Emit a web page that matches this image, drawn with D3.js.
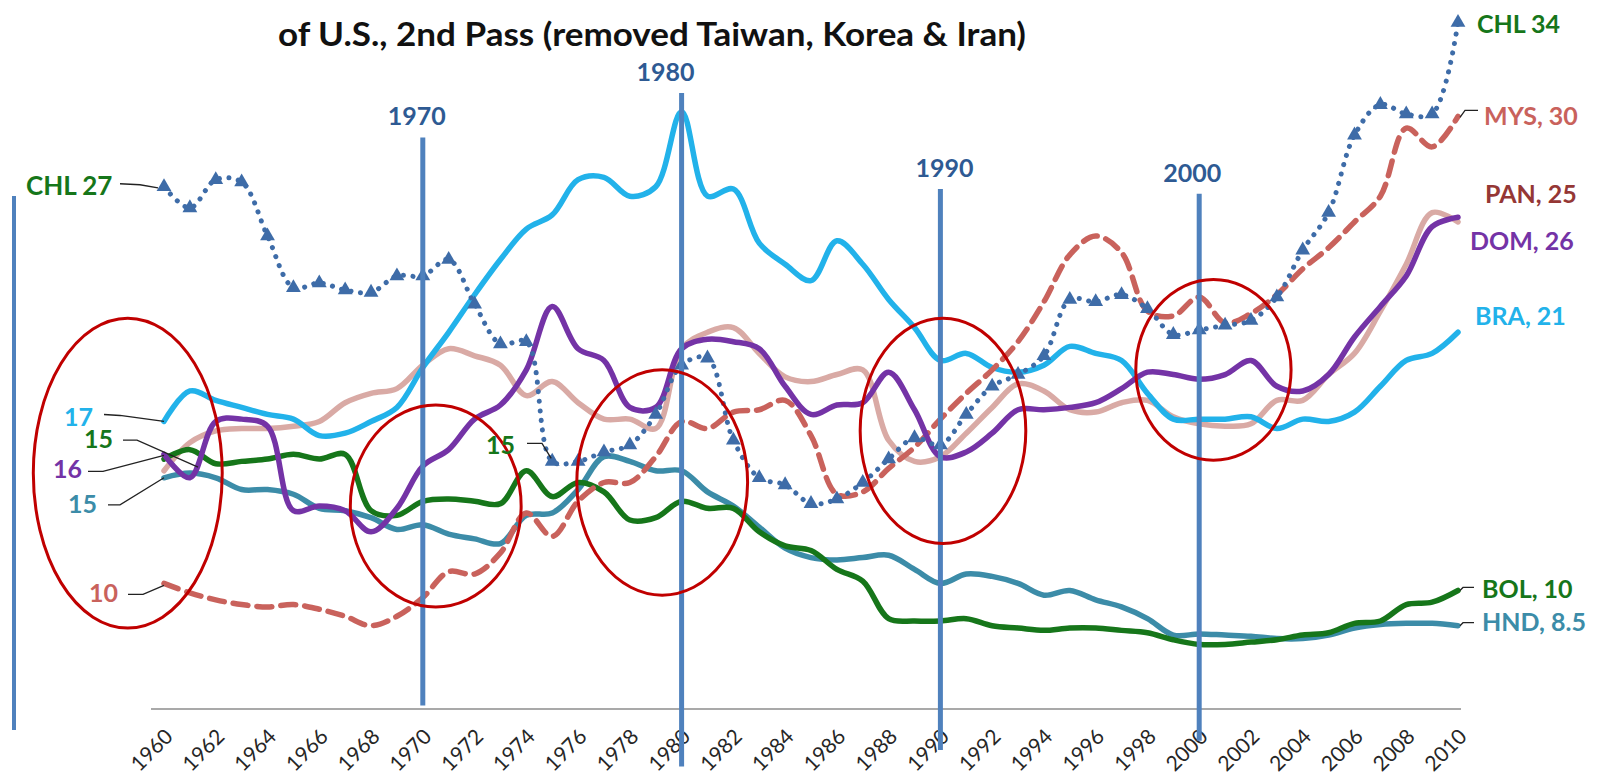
<!DOCTYPE html>
<html>
<head>
<meta charset="utf-8">
<script src="https://d3js.org/d3.v7.min.js"></script>
<style>
  body { margin: 0; background: #fff; }
  text { font-family: Lato, "Open Sans", sans-serif; }
</style>
</head>
<body>
<div id="chart"></div>
<script>

// ---- data ----
var years = d3.range(1960, 2011);

var chl = [27.0, 26.1, 27.3, 27.2, 24.9, 22.7, 22.9, 22.6, 22.5, 23.2,
	23.2, 23.9, 22.0, 20.3, 20.4, 15.3, 15.3, 15.7, 16.0, 17.3,
	19.4, 19.7, 16.2, 14.6, 14.3, 13.5, 13.7, 14.4, 15.4, 16.3,
	16.0, 17.3, 18.5, 19.0, 19.8, 22.2, 22.1, 22.4, 21.8, 20.7,
	20.9, 21.1, 21.3, 22.3, 24.3, 25.9, 29.2, 30.5, 30.1, 30.1, 34.0];

var mys = [10.1, 9.7, 9.4, 9.2, 9.1, 9.2, 9.0, 8.7, 8.3, 8.7,
	9.5, 10.6, 10.5, 11.4, 13.1, 12.1, 13.6, 14.4, 14.4, 15.5,
	17.0, 16.7, 17.4, 17.5, 17.9, 16.4, 13.9, 14.0, 15.0, 15.9,
	17.1, 18.2, 19.2, 20.4, 22.1, 24.1, 24.9, 24.2, 21.7, 21.5,
	22.3, 21.2, 21.6, 22.4, 23.5, 24.4, 25.5, 26.6, 29.5, 28.7, 30.0];

var pan = [14.9, 16.1, 16.6, 16.7, 16.7, 16.8, 17.0, 17.8, 18.2, 18.4,
	19.4, 20.1, 19.8, 19.4, 18.1, 18.7, 17.8, 17.1, 17.1, 16.7,
	20.1, 20.8, 21.0, 19.9, 18.9, 18.7, 19.0, 19.2, 16.2, 15.3,
	15.5, 16.5, 17.6, 18.6, 18.3, 17.5, 17.4, 17.8, 17.9, 17.2,
	16.9, 16.8, 16.9, 17.9, 17.9, 19.0, 19.9, 21.7, 23.7, 25.9, 25.5];

var dom = [15.6, 14.6, 17.0, 17.1, 16.8, 13.2, 13.4, 13.2, 12.3, 13.3,
	15.1, 15.8, 17.1, 17.7, 19.2, 21.9, 20.1, 19.6, 17.6, 17.6,
	20.1, 20.5, 20.4, 20.1, 18.5, 17.3, 17.7, 17.8, 19.1, 17.5,
	15.5, 15.7, 16.5, 17.5, 17.5, 17.6, 17.8, 18.4, 19.1, 19.0,
	18.8, 19.0, 19.6, 18.5, 18.3, 19.0, 20.6, 21.9, 23.2, 25.3, 25.7];

var bra = [17.0, 18.3, 17.9, 17.6, 17.3, 17.1, 16.4, 16.5, 17.0, 17.6,
	19.3, 20.8, 22.4, 23.9, 25.2, 25.8, 27.3, 27.4, 26.6, 27.0,
	30.2, 26.6, 26.9, 24.6, 23.7, 23.0, 24.7, 23.7, 22.2, 21.0,
	19.6, 19.9, 19.3, 19.1, 19.4, 20.2, 19.9, 19.6, 18.2, 17.1,
	17.1, 17.1, 17.2, 16.7, 17.1, 17.0, 17.4, 18.5, 19.6, 19.9, 20.8];

var bol = [15.4, 15.8, 15.2, 15.3, 15.4, 15.6, 15.4, 15.6, 13.2, 13.0,
	13.6, 13.7, 13.6, 13.5, 14.9, 13.8, 14.4, 14.0, 12.8, 12.9,
	13.6, 13.3, 13.3, 12.3, 11.7, 11.5, 10.7, 10.2, 8.6, 8.5,
	8.5, 8.6, 8.3, 8.2, 8.1, 8.2, 8.2, 8.1, 8.0, 7.7,
	7.5, 7.5, 7.6, 7.7, 7.9, 8.0, 8.4, 8.5, 9.2, 9.3, 9.8];

var hnd = [14.6, 14.8, 14.6, 14.1, 14.1, 13.9, 13.3, 13.2, 12.9, 12.4,
	12.6, 12.2, 12.0, 11.8, 13.0, 13.1, 14.1, 15.5, 15.3, 14.9,
	14.9, 14.0, 13.4, 12.5, 11.6, 11.2, 11.1, 11.2, 11.3, 10.7,
	10.1, 10.5, 10.4, 10.1, 9.6, 9.8, 9.4, 9.1, 8.6, 7.9,
	7.95, 7.9, 7.85, 7.75, 7.75, 7.9, 8.2, 8.35, 8.4, 8.4, 8.3];

var tickYears = years.filter(function(y) { return y % 2 == 0; });

// decade markers and the red circles (year, value, radius in years / value units)
var decades = [1970, 1980, 1990, 2000];
var decadeTop = [29.1, 31.0, 26.9, 26.7];
var decadeBottom = [4.9, 2.3, 3.0, 3.4];
var decadeLabelShift = [-6, -16, 4, -7];
var circles = [
	[1958.6, 14.8, 3.65, 6.6],
	[1970.5, 13.4, 3.3, 4.3],
	[1979.25, 14.4, 3.3, 4.8],
	[1990.1, 16.6, 3.2, 4.8],
	[2000.55, 19.2, 3.0, 3.85]
];

var title = "of U.S., 2nd Pass (removed Taiwan, Korea & Iran)";

// ---- layout ----
var W = 1600, H = 783;
var x = d3.scaleLinear().domain([1960, 2010]).range([164, 1458]);
var y = d3.scaleLinear().domain([4.75, 35]).range([709, -1]);

var svg = d3.select("#chart").append("svg")
	.attr("width", W)
	.attr("height", H);

var series = [
	{ name: "PAN", values: pan, color: "#d9aaa5", dash: null },
	{ name: "HND", values: hnd, color: "#3c8ca8", dash: null },
	{ name: "BOL", values: bol, color: "#16761a", dash: null },
	{ name: "BRA", values: bra, color: "#22b2ea", dash: null },
	{ name: "MYS", values: mys, color: "#c9625c", dash: "15 9" },
	{ name: "DOM", values: dom, color: "#7433a6", dash: null },
	{ name: "CHL", values: chl, color: "#3e6ca8", dash: "0.1 9.5" }
];

drawAxis();
drawSeries();
drawDecades();
drawCircles();
drawLabels();


function drawAxis() {
	// title (first line is cut off in the source)
	svg.append("text")
		.attr("x", 652)
		.attr("y", 46)
		.attr("text-anchor", "middle")
		.attr("textLength", 748)
		.attr("lengthAdjust", "spacingAndGlyphs")
		.style("font-size", "32px")
		.style("font-weight", "bold")
		.style("fill", "#111")
		.text(title);

	// left bar
	svg.append("line")
		.attr("x1", 14).attr("x2", 14)
		.attr("y1", 196).attr("y2", 730)
		.attr("stroke", "#4f81bd")
		.attr("stroke-width", 4);

	svg.append("line")
		.attr("x1", 151).attr("x2", 1461)
		.attr("y1", y(4.75)).attr("y2", y(4.75))
		.attr("stroke", "#8c8c8c")
		.attr("stroke-width", 1.5);

	svg.selectAll(".tick-label")
		.data(tickYears)
		.enter()
		.append("text")
		.attr("class", "tick-label")
		.attr("text-anchor", "end")
		.attr("transform", function(d) {
			return "translate(" + (x(d) + 10) + "," + (y(4.75) + 29) + ") rotate(-45)";
		})
		.style("font-size", "21px")
		.style("fill", "#262626")
		.text(function(d) { return d; });
}


function drawSeries() {
	var line = d3.line()
		.x(function(d, i) { return x(years[i]); })
		.y(function(d) { return y(d); })
		.curve(d3.curveCatmullRom.alpha(0.5));

	series.forEach(function(s) {
		svg.append("path")
			.datum(s.values)
			.attr("d", line)
			.attr("fill", "none")
			.attr("stroke", s.color)
			.attr("stroke-width", s.name == "CHL" ? 5 : 5.5)
			.attr("stroke-linecap", "round")
			.attr("stroke-linejoin", "round")
			.attr("stroke-dasharray", s.dash);
	});

	// triangles on the chile series
	svg.selectAll(".tri")
		.data(chl)
		.enter()
		.append("path")
		.attr("class", "tri")
		.attr("d", d3.symbol().type(d3.symbolTriangle).size(95))
		.attr("transform", function(d, i) { return "translate(" + x(years[i]) + "," + y(d) + ")"; })
		.attr("fill", "#3e6ca8");
}


function drawDecades() {
	decades.forEach(function(d, i) {
		svg.append("line")
			.attr("x1", x(d)).attr("x2", x(d))
			.attr("y1", y(decadeTop[i])).attr("y2", y(decadeBottom[i]))
			.attr("stroke", "#4f81bd")
			.attr("stroke-width", 5);

		svg.append("text")
			.attr("x", x(d) + decadeLabelShift[i])
			.attr("y", y(decadeTop[i]) - 12)
			.attr("text-anchor", "middle")
			.style("font-size", "25px")
			.style("font-weight", "bold")
			.style("fill", "#2e5a93")
			.text(d);
	});
}


function drawCircles() {
	var pxYear = x(1961) - x(1960);
	var pxUnit = y(0) - y(1);
	svg.selectAll(".ring")
		.data(circles)
		.enter()
		.append("ellipse")
		.attr("class", "ring")
		.attr("cx", function(d) { return x(d[0]); })
		.attr("cy", function(d) { return y(d[1]); })
		.attr("rx", function(d) { return d[2] * pxYear; })
		.attr("ry", function(d) { return d[3] * pxUnit; })
		.attr("fill", "none")
		.attr("stroke", "#c00000")
		.attr("stroke-width", 3);
}


function addLeader(pts) {
	svg.append("path")
		.attr("d", d3.line().curve(d3.curveLinear)(pts))
		.attr("fill", "none")
		.attr("stroke", "#222")
		.attr("stroke-width", 1.3);
}

function addText(tx, ty, txt, color, anchor, size) {
	svg.append("text")
		.attr("x", tx)
		.attr("y", ty)
		.attr("text-anchor", anchor || "start")
		.style("font-size", (size || 25) + "px")
		.style("font-weight", "bold")
		.style("fill", color)
		.text(txt);
}


function drawLabels() {
	var x0 = x(1960), x1 = x(2010);

	// left side, start values
	addText(26, y(chl[0]) + 8, "CHL " + Math.round(chl[0]), "#16761a", "start", 26);
	addLeader([[120, y(chl[0]) - 3], [140, y(chl[0]) - 2], [x0 - 6, y(chl[0]) + 1]]);

	addText(93, y(bra[0]) + 5, Math.round(bra[0]), "#22b2ea", "end");
	addLeader([[104, y(bra[0]) - 7], [120, y(bra[0]) - 6], [x0, y(bra[0])]]);

	addText(113, y(bol[0]) - 11, Math.round(bol[0]), "#16761a", "end");
	addLeader([[123, y(bol[0]) - 19], [137, y(bol[0]) - 19], [x0 + 34, y(bol[0]) + 8]]);

	addText(82, y(dom[0]) + 24, Math.round(dom[0]), "#7433a6", "end");
	addLeader([[88, y(dom[0]) + 17], [103, y(dom[0]) + 17], [x0, y(dom[0]) + 1]]);

	addText(97, y(hnd[0]) + 35, Math.round(hnd[0]), "#3c8ca8", "end");
	addLeader([[108, y(hnd[0]) + 27], [120, y(hnd[0]) + 27], [x0, y(hnd[0])]]);

	addText(118, y(mys[0]) + 19, Math.round(mys[0]), "#c9625c", "end");
	addLeader([[128, y(mys[0]) + 11], [143, y(mys[0]) + 11], [x0, y(mys[0]) + 2]]);

	// chile's 1975 value
	addText(515, y(chl[15]) - 7, Math.round(chl[15]), "#16761a", "end");
	addLeader([[527, y(chl[15]) - 18], [542, y(chl[15]) - 18], [x(1975) - 1, y(chl[15]) - 3]]);

	// right side, end values
	addText(x1 + 19, y(chl[50]) + 11, "CHL " + chl[50].toFixed(0), "#16761a");
	addText(x1 + 26, y(mys[50]) + 9, "MYS, " + mys[50].toFixed(0), "#c9625c");
	addLeader([[x1 + 2, y(mys[50]) + 1], [x1 + 7, y(mys[50]) - 6], [x1 + 20, y(mys[50]) - 6]]);
	addText(x1 + 27, y(pan[50]) - 19, "PAN, 25", "#953735");
	addText(x1 + 12, y(dom[50]) + 33, "DOM, 26", "#7433a6");
	addText(x1 + 17, y(bra[50]) - 7, "BRA, 21", "#22b2ea");
	addText(x1 + 24, y(bol[50]) + 8, "BOL, 10", "#16761a");
	addLeader([[x1 + 2, y(bol[50])], [x1 + 5, y(bol[50]) - 3], [x1 + 16, y(bol[50]) - 3]]);
	addText(x1 + 24, y(hnd[50]) + 5, "HND, 8.5", "#3c8ca8");
	addLeader([[x1 + 2, y(hnd[50])], [x1 + 5, y(hnd[50]) - 3], [x1 + 16, y(hnd[50]) - 3]]);
}

</script>
</body>
</html>
